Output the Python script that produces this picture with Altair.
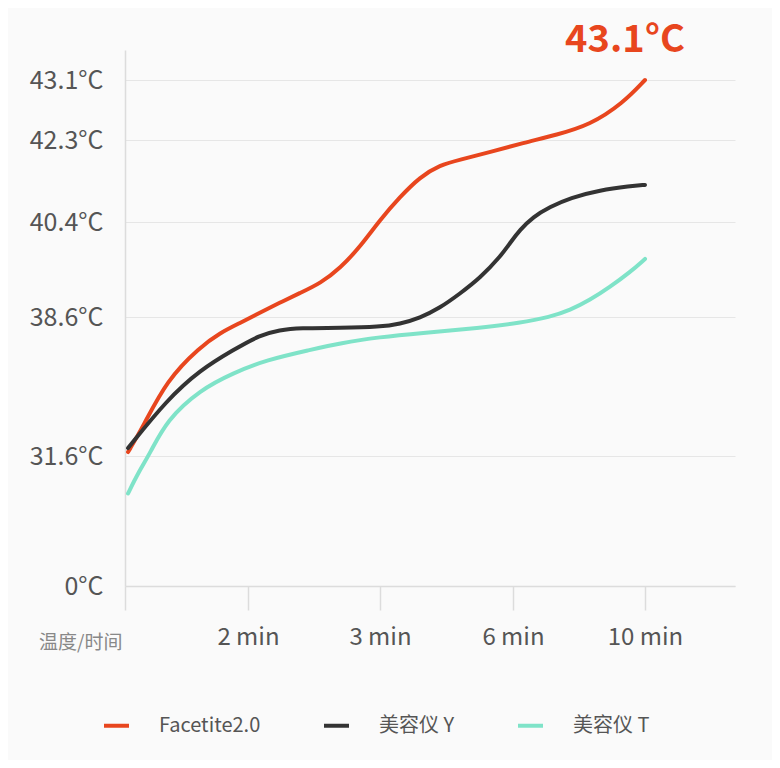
import altair as alt
import pandas as pd

FONT = "Noto Sans CJK SC"

series_names = ["Facetite2.0", "美容仪 Y", "美容仪 T"]
series_colors = ["#E8461E", "#333333", "#7FE3C8"]

# minutes / °C
facetite_min = [0.05, 0.29, 0.68, 1.22, 1.54, 1.87, 2.09, 2.24, 2.39, 2.55, 2.70, 2.85, 3.0, 3.45, 3.90, 4.35, 4.80, 5.48, 6.30, 7.33, 8.33, 9.33, 10]
facetite_temp = [31.8, 33.06, 35.43, 37.09, 37.79, 38.30, 38.68, 38.87, 39.05, 39.24, 39.53, 39.93, 40.45, 40.98, 41.44, 41.72, 41.84, 42.02, 42.23, 42.37, 42.50, 42.79, 43.1]

y_min = [0.05, 0.68, 1.22, 1.76, 2.09, 2.24, 2.39, 2.70, 3.0, 3.45, 3.90, 4.35, 4.80, 5.26, 5.71, 5.93, 6.21, 6.61, 7.12, 7.73, 8.64, 9.55, 10]
y_temp = [32.0, 34.42, 35.93, 36.94, 37.69, 37.95, 38.05, 38.05, 38.10, 38.25, 38.55, 38.77, 39.04, 39.34, 39.74, 40.00, 40.25, 40.52, 40.75, 40.96, 41.14, 41.23, 41.26]

t_min = [0.05, 0.21, 0.41, 0.68, 1.22, 1.76, 2.14, 2.47, 2.70, 3.0, 3.90, 5.26, 6.21, 7.12, 7.73, 8.33, 8.94, 9.55, 10]
t_temp = [22.5, 27.4, 31.75, 33.41, 34.93, 35.78, 36.44, 36.94, 37.29, 37.59, 37.79, 38.05, 38.30, 38.60, 38.73, 38.92, 39.17, 39.45, 39.70]

x_ticks = [0, 2, 3, 6, 10]
y_ticks = [0, 31.6, 38.6, 40.4, 42.3, 43.1]
axis_title = "温度/时间"

peak_min = [10]
peak_temp = [43.1]
peak_label = ["43.1°C"]

rows = []
for name, xs, ys in zip(series_names, [facetite_min, y_min, t_min], [facetite_temp, y_temp, t_temp]):
    for a, b in zip(xs, ys):
        rows.append({"series": name, "minute": a, "temp": b})
df = pd.DataFrame(rows)
peak_df = pd.DataFrame({"minute": peak_min, "temp": peak_temp, "label": peak_label})

W, H = 610, 536
x_scale = alt.Scale(domain=x_ticks + [12], range=[0, 123, 255, 388, 520, W], nice=False, zero=False)
y_scale = alt.Scale(domain=y_ticks + [44.5], range=[H, 406, 267, 172, 90, 30, 0], nice=False, zero=False)

x_axis = alt.Axis(
    values=x_ticks,
    labelExpr="datum.value == 0 ? '' : datum.value + ' min'",
    grid=False, domainColor="#dcdcdc", domainWidth=1.5, tickColor="#dcdcdc", tickWidth=1.5, tickSize=24,
    labelFont=FONT, labelFontSize=24, labelColor="#555555", labelPadding=15,
    title=axis_title, titleX=-3, titleY=56, titleAlign="right", titleBaseline="middle",
    titleFont=FONT, titleFontSize=19, titleColor="#888888", titleFontWeight="normal",
)
y_axis = alt.Axis(
    values=y_ticks, labelExpr="datum.value + '°C'", ticks=False, labelPadding=22,
    gridColor="#e6e6e6", gridWidth=1.2, domainColor="#dcdcdc", domainWidth=1.5,
    labelFont=FONT, labelFontSize=25, labelColor="#555555", title=None,
)

lines = alt.Chart(df).mark_line(interpolate="basis", strokeWidth=4, strokeCap="round").encode(
    x=alt.X("minute:Q", scale=x_scale, axis=x_axis),
    y=alt.Y("temp:Q", scale=y_scale, axis=y_axis),
    color=alt.Color(
        "series:N",
        scale=alt.Scale(domain=series_names, range=series_colors),
        sort=series_names,
        legend=alt.Legend(
            orient="none", legendX=-23, legendY=661, direction="horizontal", title=None,
            symbolType="stroke", symbolStrokeWidth=4, symbolSize=625,
            labelFont=FONT, labelFontSize=20, labelColor="#555555",
            columnPadding=55, labelOffset=28, padding=0,
        ),
    ),
    detail="series:N",
)

peak = alt.Chart(peak_df).mark_text(
    font=FONT, fontSize=38, fontWeight="bold", color="#E8461E", dx=-20, dy=-39,
    align="center", baseline="middle",
).encode(x=alt.X("minute:Q", scale=x_scale), y=alt.Y("temp:Q", scale=y_scale), text="label:N")

chart = alt.layer(lines, peak).properties(
    width=W, height=H,
    autosize=alt.AutoSizeParams(type="none"),
    padding={"left": 117, "top": 42, "right": 37, "bottom": 174},
    background="#fafafa",
).configure_view(stroke=None)

chart.save("out.html", embed_options={"renderer": "svg", "actions": False})
